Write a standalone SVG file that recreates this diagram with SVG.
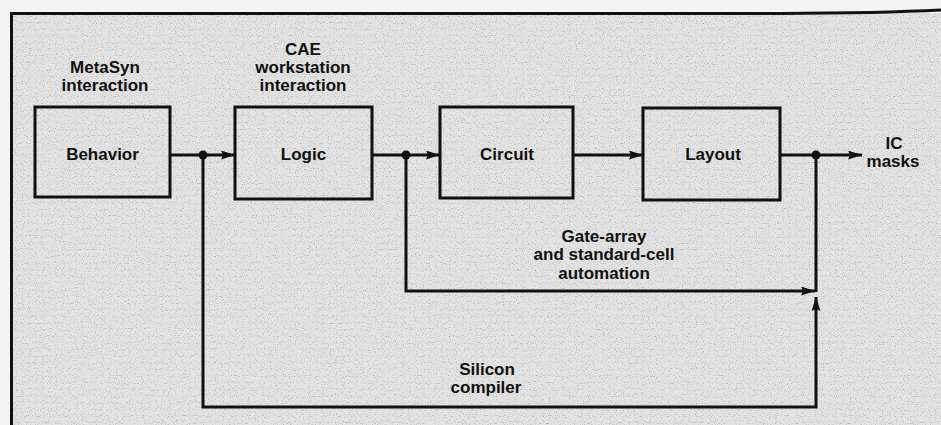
<svg xmlns="http://www.w3.org/2000/svg" width="941" height="425" viewBox="0 0 941 425">
  <style>
    .box { fill: none; stroke: #111; stroke-width: 3; }
    .line { fill: none; stroke: #111; stroke-width: 3; }
    .lbl { font-family: "Liberation Sans", Arial, sans-serif; font-weight: bold; font-size: 17px; fill: #111; text-anchor: middle; }
    .dot { fill: #111; }
  </style>
  <defs>
    <marker id="arrow" markerUnits="userSpaceOnUse" markerWidth="15" markerHeight="10" refX="14" refY="4.5" orient="auto">
      <path d="M0,0 L14,4.5 L0,9 L2,4.5 z" fill="#111"/>
    </marker>
    <filter id="grain" x="0" y="0" width="100%" height="100%">
      <feTurbulence type="fractalNoise" baseFrequency="0.85" numOctaves="1" seed="7" result="n"/>
      <feColorMatrix in="n" type="matrix" values="0 0 0 0 0.1  0 0 0 0 0.1  0 0 0 0 0.1  -3 0 0 0 1.35"/>
    </filter>
  </defs>

  <rect x="0" y="0" width="941" height="425" fill="#f4f4f4"/>
  <rect x="11" y="13" width="930" height="412" fill="#e3e3e3"/>
  <rect x="11" y="13" width="930" height="412" filter="url(#grain)" opacity="0.5"/>

  <g id="frame">
    <path class="line" d="M11.5,425 V13.5 L780,13.5 Q880,13 941,10"/>
  </g>

  <g id="label-metasyn">
    <text class="lbl" x="105" y="73">MetaSyn</text>
    <text class="lbl" x="105" y="91">interaction</text>
  </g>
  <g id="label-cae">
    <text class="lbl" x="303" y="55">CAE</text>
    <text class="lbl" x="303" y="73">workstation</text>
    <text class="lbl" x="303" y="91">interaction</text>
  </g>

  <g id="behavior">
    <rect class="box" x="35" y="107" width="135" height="90"/>
    <text class="lbl" x="102.5" y="160">Behavior</text>
  </g>
  <g id="logic">
    <rect class="box" x="235" y="107" width="137" height="92"/>
    <text class="lbl" x="303.5" y="160">Logic</text>
  </g>
  <g id="circuit">
    <rect class="box" x="440" y="107" width="133" height="91"/>
    <text class="lbl" x="507" y="160">Circuit</text>
  </g>
  <g id="layout">
    <rect class="box" x="643" y="108" width="137" height="92"/>
    <text class="lbl" x="713" y="160">Layout</text>
  </g>
  <g id="ic-masks">
    <text class="lbl" x="894" y="149">IC</text>
    <text class="lbl" x="893" y="167">masks</text>
  </g>

  <g id="connectors">
    <path class="line" d="M170,155 H235" marker-end="url(#arrow)"/>
    <path class="line" d="M372,155 H440" marker-end="url(#arrow)"/>
    <path class="line" d="M573,155 H643" marker-end="url(#arrow)"/>
    <path class="line" d="M780,155 H862" marker-end="url(#arrow)"/>
    <path class="line" d="M406,155 V291 H815" marker-end="url(#arrow)"/>
    <path class="line" d="M816,155 V292"/>
    <path class="line" d="M203,155 V407 H816 V297" marker-end="url(#arrow)"/>
    <circle class="dot" cx="203" cy="155" r="4.5"/>
    <circle class="dot" cx="406" cy="155" r="4.5"/>
    <circle class="dot" cx="816" cy="155" r="4.5"/>
  </g>

  <g id="label-gate-array">
    <text class="lbl" x="604" y="242">Gate-array</text>
    <text class="lbl" x="604" y="260">and standard-cell</text>
    <text class="lbl" x="604" y="279">automation</text>
  </g>
  <g id="label-silicon">
    <text class="lbl" x="487" y="375">Silicon</text>
    <text class="lbl" x="486" y="393">compiler</text>
  </g>
</svg>
